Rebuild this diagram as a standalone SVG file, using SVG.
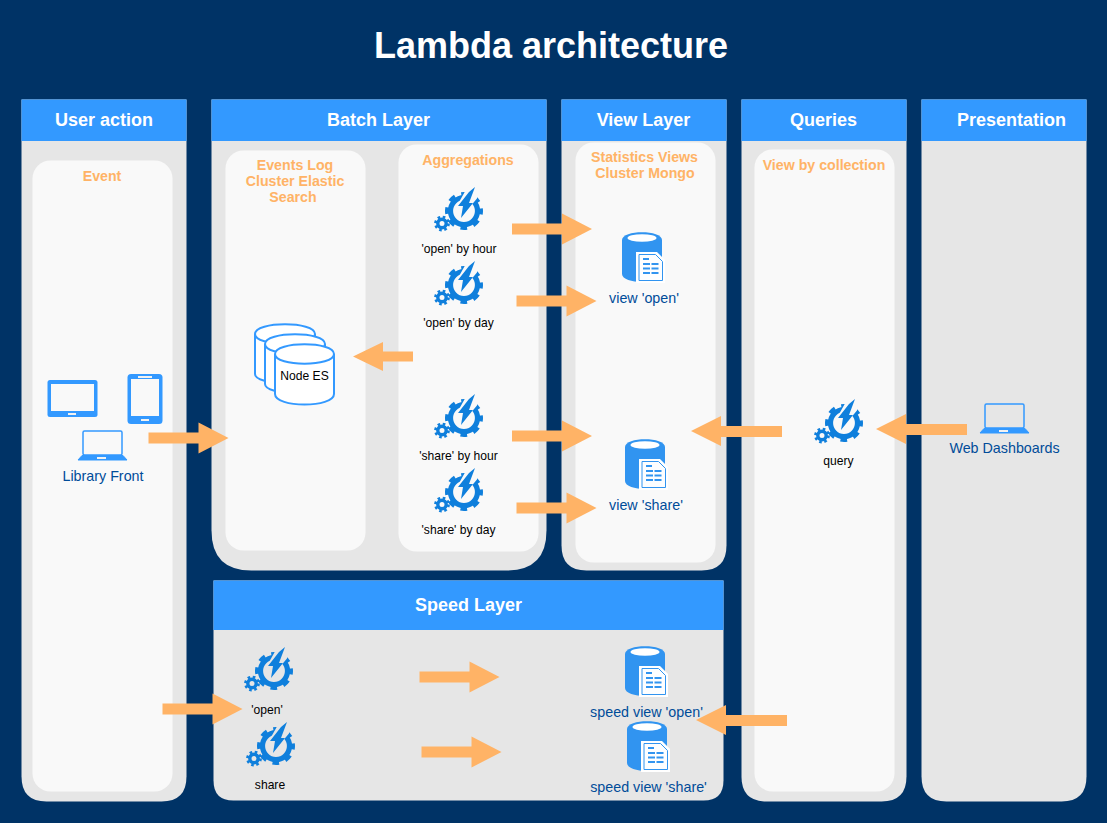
<svg xmlns="http://www.w3.org/2000/svg" xmlns:xlink="http://www.w3.org/1999/xlink" width="1107" height="823" viewBox="0 0 1107 823">
<style>
text{font-family:"Liberation Sans",Arial,sans-serif;text-anchor:middle}
.lane{fill:#e6e6e6}
.head{fill:#3399ff}
.inner{fill:#f9f9f9}
.lt{font-size:18px;font-weight:bold;fill:#fff}
.sub{font-size:14.2px;font-weight:bold;fill:#ffb366}
.lb{font-size:12.1px;fill:#000}
.bl{font-size:14.3px;fill:#004c99}
.arrow{fill:#ffb366}
.cyl{fill:#fff;stroke:#3399ff;stroke-width:2}
</style>
<defs>
<mask id="boltgap" maskUnits="userSpaceOnUse" x="-30" y="-30" width="60" height="60">
<rect x="-30" y="-30" width="60" height="60" fill="#fff"/>
<path d="M3-21 L13-27 L12-13 L8-8 L-3 7 L-1-5 H-6 Z" fill="#000" stroke="#000" stroke-width="2"/>
</mask>
<symbol id="gear" overflow="visible">
<g fill="none" stroke="#0f7fdc" mask="url(#boltgap)">
<circle r="13.500" stroke-width="5.200"/>
<circle r="17" stroke-width="4" stroke-dasharray="6.700 6.650" stroke-dashoffset="3.300"/>
</g>
<path d="M5-19 L11-24 L5-8 H9 L-3 7 L-1-5 H-6 Z" fill="#0f7fdc"/>
<circle cx="-22" cy="12.500" r="4.200" fill="none" stroke="#0f7fdc" stroke-width="3.400"/>
<circle cx="-22" cy="12.500" r="6.500" fill="none" stroke="#0f7fdc" stroke-width="2.800" stroke-dasharray="2.550 2.550"/>
</symbol>
<symbol id="dbdoc" overflow="visible">
<path d="M0 8 C0-2.500 40-2.500 40 8 V42 C40 52.500 0 52.500 0 42 Z" fill="#3194f0"/>
<ellipse cx="20" cy="6" rx="14.500" ry="3.800" fill="#fff"/>
<path d="M14 20 H35 L43 28 V51 H14 Z" fill="#fff"/>
<path d="M17 22.500 H33.500 L40.500 29.500 V48.500 H17 Z" fill="#fdfeff" stroke="#3194f0" stroke-width="1"/>
<path d="M21 27 H27 M21 32 H37 M21 36.500 H37 M21 41 H37" stroke="#3194f0" stroke-width="2.200" stroke-dasharray="7 1.500" fill="none"/>
</symbol>
<symbol id="laptop" overflow="visible">
<rect x="1" y="1" width="39" height="24" rx="1.500" fill="none" stroke="#3399ff" stroke-width="1.500"/>
<path d="M0 25.500 H41 L45 30 H-4 Z" fill="#3399ff" stroke="#3399ff" stroke-linejoin="round"/>
<rect x="15" y="27" width="9" height="2" fill="#f2f2f2"/>
</symbol>
<path id="arr" d="M0-5.500 H50 V-15.500 L80 0 L50 15.500 V5.500 H0 Z"/>
<path id="arrl" d="M0 0 L30-15 V-5 H91 V6 H30 V15 Z"/>
</defs>
<rect width="1107" height="823" fill="#003366"/>
<text x="551" y="58" font-size="36" font-weight="bold" fill="#fff">Lambda architecture</text>

<g id="lane-user-action">
<path class="lane" d="M21.500 99.500 H186.500 V776.500 Q186.500 801.500 161.500 801.500 H46.500 Q21.500 801.500 21.500 776.500 Z"/>
<rect class="head" x="21.500" y="99.500" width="165" height="41.500"/>
<text class="lt" x="104" y="126">User action</text>
<rect class="inner" x="32.500" y="160.500" width="140" height="631" rx="18"/>
<text class="sub" x="102" y="181">Event</text>
</g>
<g id="lane-batch">
<path class="lane" d="M211.500 99.500 H546.500 V530.500 Q546.500 570.500 506.500 570.500 H251.500 Q211.500 570.500 211.500 530.500 Z"/>
<rect class="head" x="211.500" y="99.500" width="335" height="41.500"/>
<text class="lt" x="378.500" y="126">Batch Layer</text>
<rect class="inner" x="225.500" y="150.500" width="140" height="400" rx="18"/>
<text class="sub" x="295" y="170">Events Log</text>
<text class="sub" x="295" y="186">Cluster Elastic</text>
<text class="sub" x="293" y="202">Search</text>
<rect class="inner" x="398.500" y="144.500" width="140" height="407" rx="18"/>
<text class="sub" x="468" y="165">Aggregations</text>
</g>
<g id="lane-view">
<path class="lane" d="M561.500 99.500 H726.500 V545.500 Q726.500 570.500 701.500 570.500 H586.500 Q561.500 570.500 561.500 545.500 Z"/>
<rect class="head" x="561.500" y="99.500" width="165" height="41.500"/>
<text class="lt" x="643.500" y="126">View Layer</text>
<rect class="inner" x="575.500" y="142.500" width="140" height="420" rx="18"/>
<text class="sub" x="644.500" y="162">Statistics Views</text>
<text class="sub" x="645" y="178">Cluster Mongo</text>
</g>
<g id="lane-queries">
<path class="lane" d="M741.500 99.500 H906.500 V776.500 Q906.500 801.500 881.500 801.500 H766.500 Q741.500 801.500 741.500 776.500 Z"/>
<rect class="head" x="741.500" y="99.500" width="165" height="41.500"/>
<text class="lt" x="823.500" y="126">Queries</text>
<rect class="inner" x="754.500" y="149.500" width="140" height="642" rx="18"/>
<text class="sub" x="824" y="170">View by collection</text>
</g>
<g id="lane-presentation">
<path class="lane" d="M921.500 99.500 H1086.500 V776.500 Q1086.500 801.500 1061.500 801.500 H946.500 Q921.500 801.500 921.500 776.500 Z"/>
<rect class="head" x="921.500" y="99.500" width="165" height="41.500"/>
<text class="lt" x="1011.500" y="126">Presentation</text>
</g>
<g id="lane-speed">
<path class="lane" d="M213.500 580.500 H723.500 V780.500 Q723.500 800.500 703.500 800.500 H233.500 Q213.500 800.500 213.500 780.500 Z"/>
<rect class="head" x="213.500" y="580.500" width="510" height="49.500"/>
<text class="lt" x="468.500" y="611">Speed Layer</text>
</g>

<g id="node-library-front">
<rect x="47.500" y="380" width="50" height="37" rx="2.500" fill="#3399ff"/>
<rect x="51" y="384" width="43" height="27" fill="#f9f9f9"/>
<rect x="68" y="413" width="8" height="2" fill="#f2f2f2"/>
<rect x="127.500" y="374" width="35" height="50" rx="3.500" fill="#3399ff"/>
<rect x="131" y="379" width="28" height="37" fill="#f9f9f9"/>
<rect x="138" y="376" width="14" height="2" fill="#f2f2f2"/>
<rect x="141" y="419" width="8" height="2" fill="#f2f2f2"/>
<use href="#laptop" xlink:href="#laptop" x="82" y="430"/>
<text class="bl" x="103" y="481">Library Front</text>
</g>
<g id="node-es">
<path class="cyl" d="M255 334 V374 C255 386 315 386 315 374 V334 C315 321 255 321 255 334 C255 347 315 347 315 334"/>
<path class="cyl" d="M265 344 V384 C265 396 325 396 325 384 V344 C325 331 265 331 265 344 C265 357 325 357 325 344"/>
<path class="cyl" d="M275 354 V394 C275 408 334 408 334 394 V354 C334 341 275 341 275 354 C275 367 334 367 334 354"/>
<text class="lb" x="304.500" y="380">Node ES</text>
</g>
<g id="node-open-hour"><use href="#gear" xlink:href="#gear" x="464" y="211"/><text class="lb" x="459" y="253">'open' by hour</text></g>
<g id="node-open-day"><use href="#gear" xlink:href="#gear" x="464" y="285"/><text class="lb" x="458.500" y="327">'open' by day</text></g>
<g id="node-share-hour"><use href="#gear" xlink:href="#gear" x="464" y="418"/><text class="lb" x="458.500" y="460">'share' by hour</text></g>
<g id="node-share-day"><use href="#gear" xlink:href="#gear" x="464" y="492"/><text class="lb" x="458.500" y="534">'share' by day</text></g>
<g id="node-view-open"><use href="#dbdoc" xlink:href="#dbdoc" x="622" y="232"/><text class="bl" x="644" y="303">view 'open'</text></g>
<g id="node-view-share"><use href="#dbdoc" xlink:href="#dbdoc" x="625" y="439"/><text class="bl" x="646" y="510">view 'share'</text></g>
<g id="node-query"><use href="#gear" xlink:href="#gear" x="844" y="423"/><text class="lb" x="838.500" y="465">query</text></g>
<g id="node-web-dashboards"><use href="#laptop" xlink:href="#laptop" x="984" y="403"/><text class="bl" x="1004.500" y="453">Web Dashboards</text></g>
<g id="node-speed-open"><use href="#gear" xlink:href="#gear" x="274" y="671"/><text class="lb" x="267" y="714">'open'</text></g>
<g id="node-speed-share"><use href="#gear" xlink:href="#gear" x="276" y="746"/><text class="lb" x="270" y="789">share</text></g>
<g id="node-speed-view-open"><use href="#dbdoc" xlink:href="#dbdoc" x="625" y="646"/><text class="bl" x="646.500" y="717">speed view 'open'</text></g>
<g id="node-speed-view-share"><use href="#dbdoc" xlink:href="#dbdoc" x="627" y="721"/><text class="bl" x="648.500" y="792">speed view 'share'</text></g>

<g id="connectors" class="arrow">
<use href="#arr" xlink:href="#arr" x="512" y="229"/>
<use href="#arr" xlink:href="#arr" x="516.500" y="301"/>
<use href="#arr" xlink:href="#arr" x="512" y="436"/>
<use href="#arr" xlink:href="#arr" x="516.500" y="508"/>
<use href="#arr" xlink:href="#arr" x="148.500" y="438"/>
<use href="#arr" xlink:href="#arr" x="162.500" y="709"/>
<use href="#arr" xlink:href="#arr" x="419.500" y="677"/>
<use href="#arr" xlink:href="#arr" x="421.500" y="752"/>
<path d="M353 356.500 L383 342 V351.500 H413 V361.500 H383 V371 Z"/>
<use href="#arrl" xlink:href="#arrl" x="691" y="431"/>
<use href="#arrl" xlink:href="#arrl" x="876" y="429"/>
<use href="#arrl" xlink:href="#arrl" x="696" y="720"/>
</g>
</svg>
